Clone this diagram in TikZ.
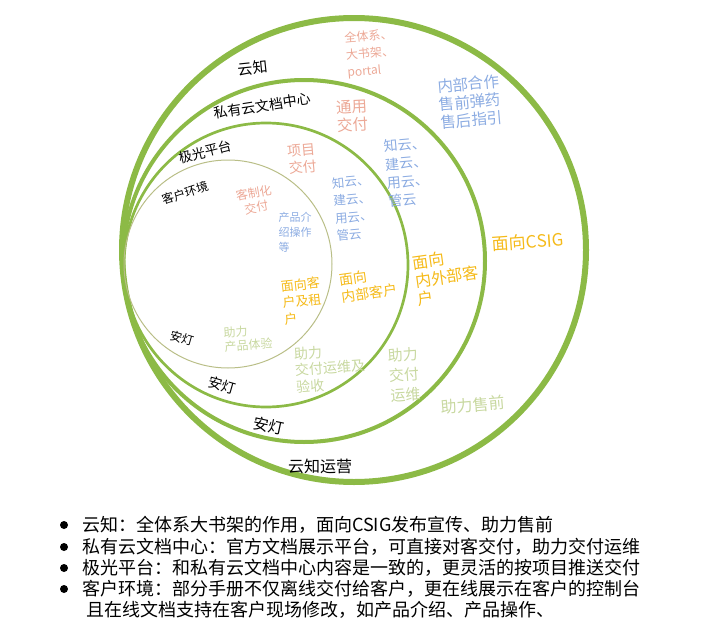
\documentclass[tikz,border=0pt]{standalone}
\usepackage{fontspec}
\setmainfont{Noto Sans CJK SC}
\definecolor{ringgreen}{RGB}{140,186,70}
\definecolor{ringolive}{RGB}{185,190,135}
\definecolor{tpink}{RGB}{236,168,150}
\definecolor{tblue}{RGB}{140,172,226}
\definecolor{torange}{RGB}{245,186,25}
\definecolor{tgreen}{RGB}{200,216,160}
\newcommand{\fsz}[2]{\fontsize{#1}{#2}\selectfont}
\begin{document}
\begin{tikzpicture}[x=1pt,y=-1pt,
  ring/.style={draw=ringgreen},
  lbl/.style={text=black,inner sep=0pt},
  pinktxt/.style={text=tpink,inner sep=0pt,align=left},
  bluetxt/.style={text=tblue,inner sep=0pt,align=left},
  orangetxt/.style={text=torange,inner sep=0pt,align=left},
  greentxt/.style={text=tgreen,inner sep=0pt,align=left},
  item/.style={text=black,inner sep=0pt,anchor=west,font=\fsz{18}{21}},
  dot/.style={fill=black}]
\useasboundingbox (0,0) rectangle (702,637);
% rings
\draw[ring,line width=6pt] (354,250) circle[radius=232];
\draw[ring,line width=4pt] (304,261) circle[radius=181];
\draw[ring,line width=2.7pt] (266,265) circle[radius=142];
\draw[draw=ringolive,line width=1pt] (228,264) circle[radius=104];
% ring labels
\node[lbl,font=\fsz{15}{18},rotate=6] (yz) at (253,68) {云知};
\node[lbl,font=\fsz{14}{17},rotate=9] (sy) at (262,106) {私有云文档中心};
\node[lbl,font=\fsz{13.5}{16},rotate=14] (jg) at (205,152) {极光平台};
\node[lbl,font=\fsz{12}{14},rotate=18] (kh) at (185,193) {客户环境};
\node[lbl,font=\fsz{12}{14},rotate=-16] (ad1) at (182,338) {安灯};
\node[lbl,font=\fsz{14}{16},rotate=-16] (ad2) at (222,385) {安灯};
\node[lbl,font=\fsz{15.5}{17},rotate=-12] (ad3) at (269,426) {安灯};
\node[lbl,font=\fsz{16}{18}] (yzyy) at (320,466) {云知运营};
% pink texts
\node[pinktxt,font=\fsz{12}{17},rotate=5] (qtx) at (370,54) {全体系、\\大书架、\\portal};
\node[pinktxt,font=\fsz{15.5}{18},rotate=3] (tyjf) at (352,116) {通用\\交付};
\node[pinktxt,font=\fsz{14}{17.5},rotate=5] (xmjf) at (302,159) {项目\\交付};
\node[pinktxt,font=\fsz{12}{15},rotate=10,align=center] (kzh) at (255,200) {客制化\\交付};
% blue texts
\node[bluetxt,font=\fsz{15.5}{18},rotate=5] (nbhz) at (470,102) {内部合作\\售前弹药\\售后指引};
\node[bluetxt,font=\fsz{14}{18.3},rotate=5] (zy1) at (407,172) {知云、\\建云、\\用云、\\管云};
\node[bluetxt,font=\fsz{12.5}{17.6},rotate=5] (zy2) at (353,208) {知云、\\建云、\\用云、\\管云};
\node[bluetxt,font=\fsz{11}{15}] (cpjs) at (295,232) {产品介\\绍操作\\等};
% orange texts
\node[orangetxt,font=\fsz{13}{16.5},rotate=6] (mxk) at (302,301) {面向客\\户及租\\户};
\node[orangetxt,font=\fsz{14}{17},rotate=8] (mxnb) at (368,285) {面向\\内部客户};
\node[orangetxt,font=\fsz{16}{18.5},rotate=8] (mxnw) at (447,277) {面向\\内外部客\\户};
\node[orangetxt,font=\fsz{17}{19},rotate=4] (csig) at (528,242) {面向CSIG};
% green texts
\node[greentxt,font=\fsz{12}{14},rotate=4] (zlcp) at (248,338) {助力\\产品体验};
\node[greentxt,font=\fsz{14}{16.5},rotate=4] (zljf1) at (330,368) {助力\\交付运维及\\验收};
\node[greentxt,font=\fsz{15}{20},rotate=4] (zljf2) at (404,375) {助力\\交付\\运维};
\node[greentxt,font=\fsz{16}{18},rotate=5] (zlsq) at (473,405) {助力售前};
% bullet list
\fill[dot] (64,525) circle[radius=4];
\fill[dot] (64,547) circle[radius=4];
\fill[dot] (64,568) circle[radius=4];
\fill[dot] (64,589) circle[radius=4];
\node[item] (l1) at (82,525) {云知：全体系大书架的作用，面向CSIG发布宣传、助力售前};
\node[item] (l2) at (82,547) {私有云文档中心：官方文档展示平台，可直接对客交付，助力交付运维};
\node[item] (l3) at (82,568) {极光平台：和私有云文档中心内容是一致的，更灵活的按项目推送交付};
\node[item] (l4) at (82,589) {客户环境：部分手册不仅离线交付给客户，更在线展示在客户的控制台};
\node[item] (l5) at (86,610) {且在线文档支持在客户现场修改，如产品介绍、产品操作、};
\end{tikzpicture}
\end{document}
